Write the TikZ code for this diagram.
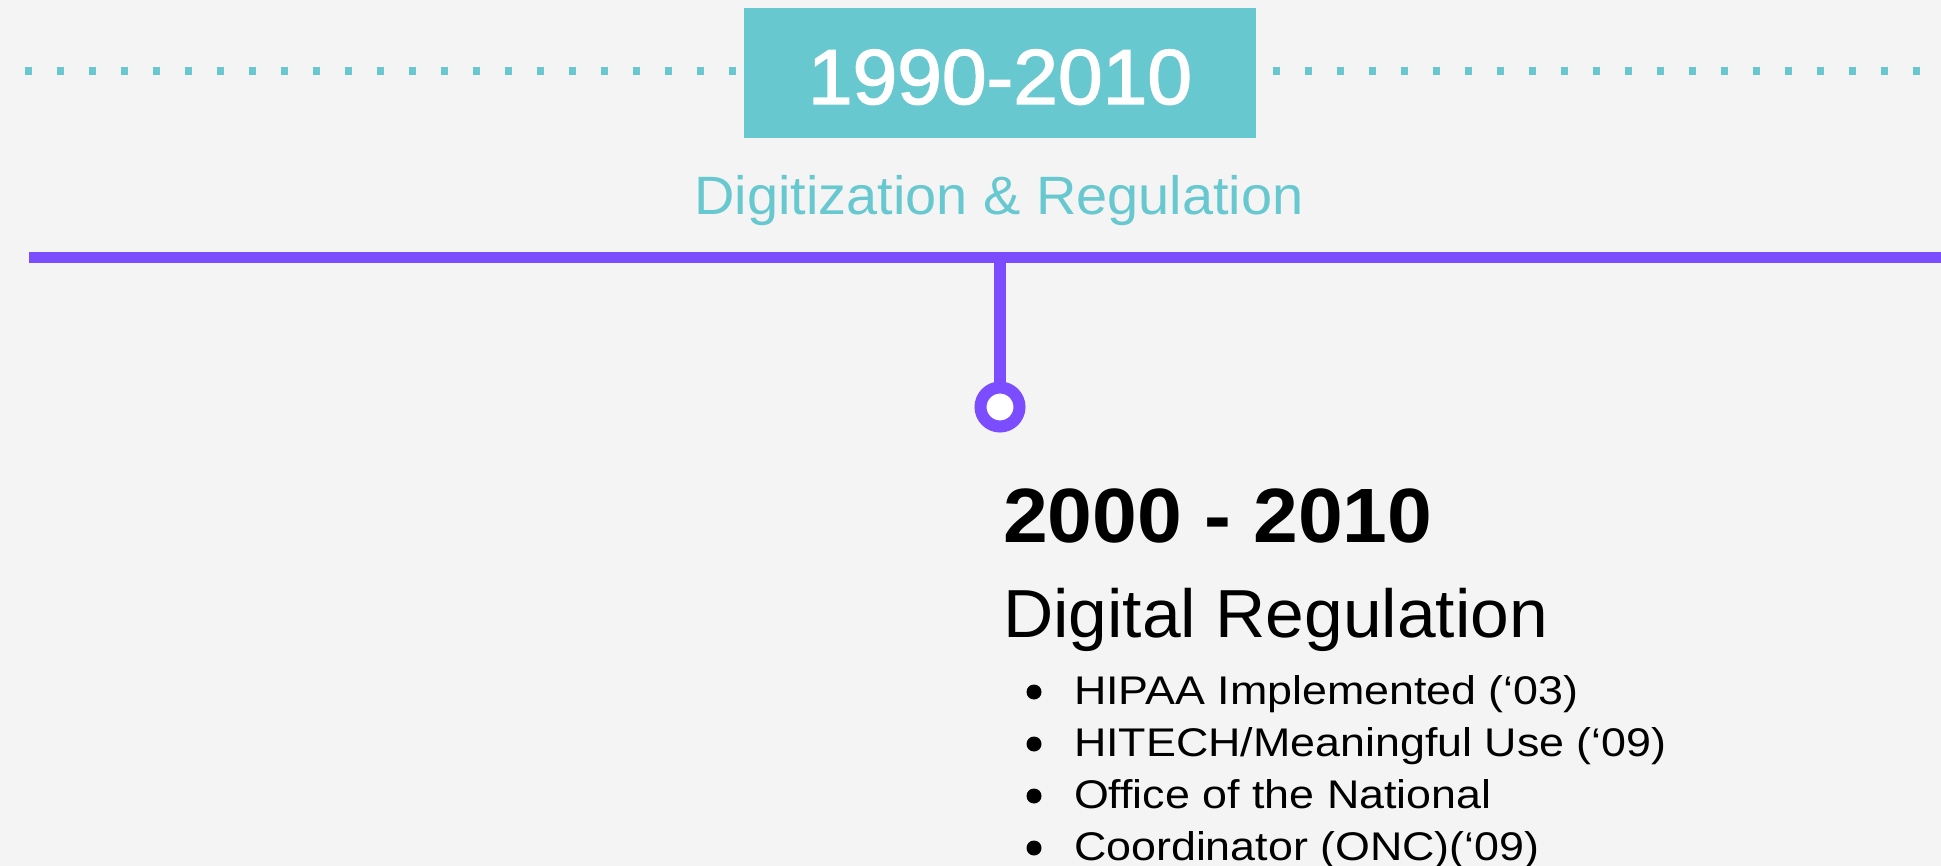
\documentclass[tikz,border=0pt]{standalone}
\usepackage{fontspec}
\setmainfont{Liberation Sans}
\newfontfamily\erafont{Liberation Sans}[FakeBold=1.8,FakeStretch=1.03]
\newfontfamily\subtitlefont{Liberation Sans}[FakeStretch=1.036]
\newfontfamily\yearsfont{Liberation Sans}[FakeStretch=1.045]
\newfontfamily\namefont{Liberation Sans}[FakeStretch=1.023]
\newfontfamily\itemfont{Liberation Sans}[FakeStretch=1.12]
\usetikzlibrary{positioning}
\definecolor{eracolor}{HTML}{67C8CF}
\definecolor{axiscolor}{HTML}{7C4DFF}
\definecolor{pagecolor}{HTML}{F4F4F4}

\begin{document}
\begin{tikzpicture}[
  x=1pt,y=-1pt,
  every node/.style={inner sep=0pt,outer sep=0pt},
  era-box/.style={fill=eracolor,text=white,minimum width=512pt,minimum height=130pt,
    text height=62pt,text depth=0pt,font=\erafont\fontsize{78}{80}\selectfont},
  era-title/.style={text=eracolor,anchor=base,font=\subtitlefont\fontsize{54}{56}\selectfont},
  dot-line/.style={draw=eracolor,line width=8pt,dash pattern=on 7.4pt off 24.6pt},
  axis-line/.style={draw=axiscolor,line width=11.6pt},
  marker/.style={circle,draw=axiscolor,fill=white,line width=12pt,minimum size=39pt},
  period-years/.style={anchor=base west,font=\yearsfont\bfseries\fontsize{77}{80}\selectfont},
  period-name/.style={anchor=base west,font=\namefont\fontsize{68}{70}\selectfont},
  period-item/.style={anchor=base west,font=\itemfont\fontsize{40}{42}\selectfont},
  item-dot/.style={circle,fill=black,minimum size=15pt},
  ]

  \fill [pagecolor] (0,0) rectangle (1941,866);
  \useasboundingbox (0,0) rectangle (1941,866);

  % era header
  \node [era-box] (era-box) at (1000,73) {1990-2010};
  \coordinate (dots-left-start) at (24.7,71);
  \coordinate (dots-left-end) at (737,71);
  \coordinate (dots-right-start) at (1272.8,71);
  \coordinate (dots-right-end) at (1921,71);
  \draw [dot-line] (dots-left-start) -- (dots-left-end);
  \draw [dot-line] (dots-right-start) -- (dots-right-end);
  \node [era-title] (era-title) at (999,215) {Digitization \& Regulation};

  % time axis
  \coordinate (axis-start) at (29,257.5);
  \coordinate (axis-end) at (1941,257.5);
  \coordinate (stem-top) at (1000,257.5);
  \draw [axis-line] (axis-start) -- (axis-end);
  \node [marker] (period-marker) at (1000,407) {};
  \draw [axis-line] (stem-top) -- (period-marker);

  % period text
  \node [period-years] (period-years) at (1003,542.7) {2000 - 2010};
  \node [period-name] (period-name) at ([yshift=-94.3pt]period-years.base west) {Digital Regulation};

  \node [period-item] (item-1) at (1074,704) {HIPAA Implemented (‘03)};
  \node [period-item] (item-2) at ([yshift=-52pt]item-1.base west) {HITECH/Meaningful Use (‘09)};
  \node [period-item] (item-3) at ([yshift=-52pt]item-2.base west) {Office of the National};
  \node [period-item] (item-4) at ([yshift=-52pt]item-3.base west) {Coordinator (ONC)(‘09)};
  \node [item-dot] (dot-1) at ([xshift=-40pt,yshift=12pt]item-1.base west) {};
  \node [item-dot] (dot-2) at ([xshift=-40pt,yshift=12pt]item-2.base west) {};
  \node [item-dot] (dot-3) at ([xshift=-40pt,yshift=12pt]item-3.base west) {};
  \node [item-dot] (dot-4) at ([xshift=-40pt,yshift=12pt]item-4.base west) {};

\end{tikzpicture}
\end{document}
